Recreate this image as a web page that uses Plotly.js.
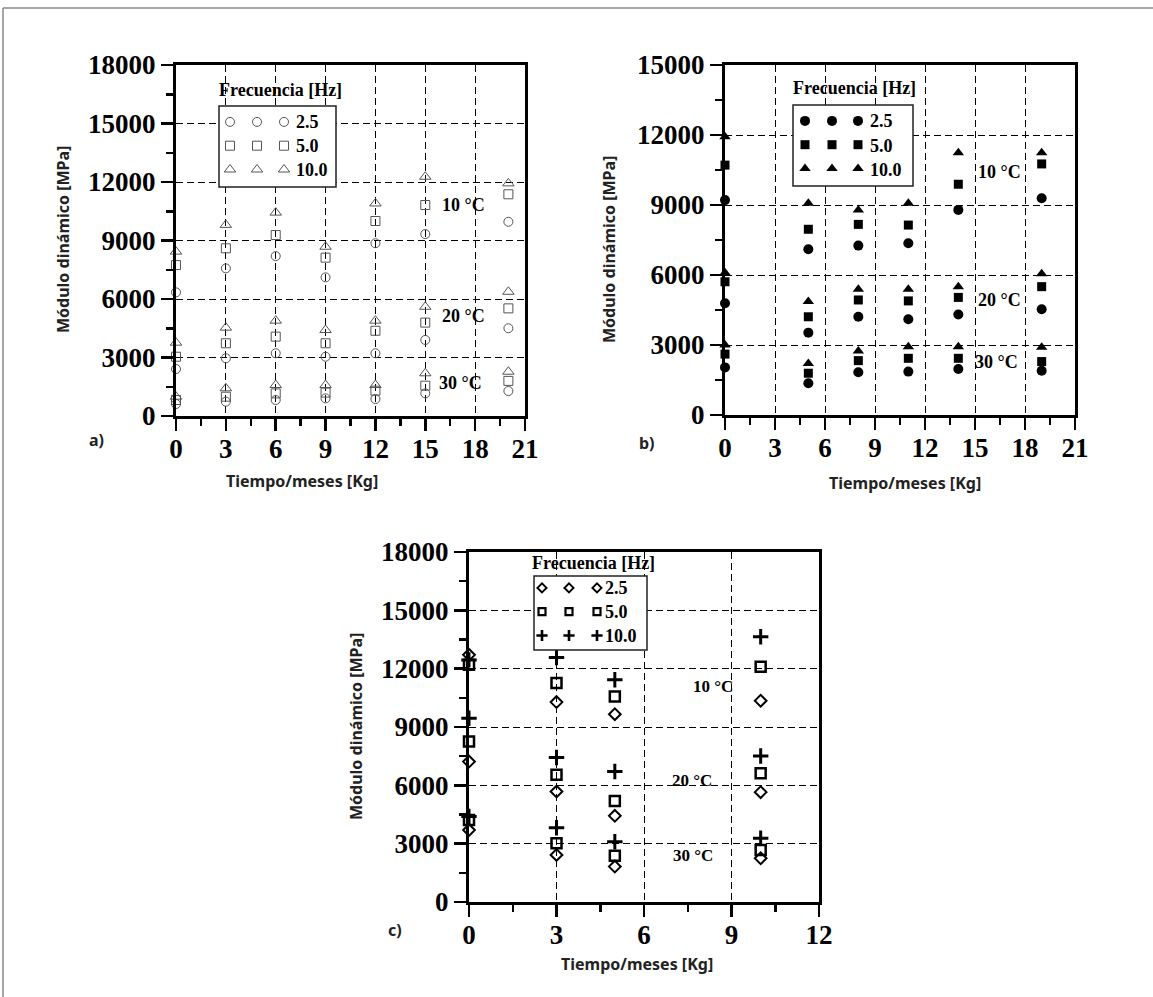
<!DOCTYPE html>
<html><head><meta charset="utf-8">
<script src="https://cdn.plot.ly/plotly-3.0.1.min.js"></script>
<style>html,body{margin:0;padding:0;background:#fff;}#chart{width:1153px;height:997px;}</style>
</head><body><div id="chart"></div>
<script>
// ---------- DATA ----------
const freqLabels = ['2.5', '5.0', '10.0'];
const tempLabels = ['10 °C', '20 °C', '30 °C'];
const legendTitle = 'Frecuencia [Hz]';
const xTitle = 'Tiempo/meses [Kg]';
const yTitle = 'Módulo dinámico [MPa]';
const panelLabels = ['a)', 'b)', 'c)'];

// Panel a
const monthsA = [0, 3, 6, 9, 12, 15, 20];
const a10_f25 = [6340, 7570, 8200, 7110, 8860, 9330, 9960];
const a10_f50 = [7740, 8600, 9280, 8120, 10000, 10820, 11370];
const a10_f100 = [8430, 9800, 10430, 8680, 10900, 12270, 11930];
const a20_f25 = [2410, 2960, 3215, 3040, 3215, 3900, 4500];
const a20_f50 = [3040, 3730, 4070, 3730, 4370, 4790, 5520];
const a20_f100 = [3760, 4530, 4890, 4410, 4890, 5600, 6370];
const a30_f25 = [615, 735, 820, 905, 870, 1160, 1280];
const a30_f50 = [820, 990, 1160, 1200, 1300, 1555, 1800];
const a30_f100 = [990, 1420, 1590, 1590, 1590, 2190, 2270];

// Panel b
const monthsB = [0, 5, 8, 11, 14, 19];
const b10_f25 = [9210, 7100, 7260, 7360, 8790, 9290];
const b10_f50 = [10710, 7960, 8170, 8140, 9890, 10760];
const b10_f100 = [11930, 9070, 8790, 9070, 11240, 11240];
const b20_f25 = [4790, 3530, 4210, 4100, 4310, 4530];
const b20_f50 = [5710, 4210, 4930, 4890, 5040, 5500];
const b20_f100 = [6100, 4860, 5390, 5390, 5500, 6050];
const b30_f25 = [2040, 1360, 1830, 1860, 1970, 1900];
const b30_f50 = [2610, 1790, 2330, 2430, 2430, 2290];
const b30_f100 = [3000, 2210, 2740, 2930, 2930, 2900];

// Panel c
const monthsC = [0, 3, 5, 10];
const c10_f25 = [12710, 10280, 9660, 10350];
const c10_f50 = [12200, 11260, 10570, 12100];
const c10_f100 = [12450, 12570, 11430, 13640];
const c20_f25 = [7220, 5680, 4430, 5650];
const c20_f50 = [8250, 6540, 5200, 6620];
const c20_f100 = [9450, 7430, 6710, 7510];
const c30_f25 = [3700, 2420, 1820, 2250];
const c30_f50 = [4220, 3020, 2380, 2680];
const c30_f100 = [4400, 3820, 3100, 3280];

// ---------- STYLE / LAYOUT ----------
const W = 1153, H = 997;
const px = v => v / W;
const py = v => 1 - v / H;
const SERIF = 'Liberation Serif, Times New Roman, serif';
const SANS = 'Noto Sans, Open Sans, sans-serif';

const markersA = [
  {symbol: 'circle-open', size: 9, color: '#555', line: {width: 1, color: '#555'}},
  {symbol: 'square-open', size: 9, color: '#555', line: {width: 1, color: '#555'}},
  {symbol: 'triangle-up-open', size: 10, color: '#555', line: {width: 1, color: '#555'}}
];
const markersB = [
  {symbol: 'circle', size: 10, color: '#000'},
  {symbol: 'square', size: 9, color: '#000'},
  {symbol: 'triangle-up', size: 10, color: '#000'}
];
const markersC = [
  {symbol: 'diamond-open', size: 9, color: '#000', line: {width: 2, color: '#000'}},
  {symbol: 'square-open', size: 10, color: '#000', line: {width: 2.5, color: '#000'}},
  {symbol: 'cross-thin-open', size: 11, color: '#000', line: {width: 3, color: '#000'}}
];
const keyMarkersC = [
  {symbol: 'diamond-open', size: 7, color: '#000', line: {width: 2, color: '#000'}},
  {symbol: 'square-open', size: 7, color: '#000', line: {width: 2.2, color: '#000'}},
  {symbol: 'cross-thin-open', size: 8, color: '#000', line: {width: 2.6, color: '#000'}}
];

const panels = [
  {months: monthsA, series: [[a10_f25, a20_f25, a30_f25], [a10_f50, a20_f50, a30_f50], [a10_f100, a20_f100, a30_f100]],
   markers: markersA, keys: markersA, xa: 'x', ya: 'y', legends: ['legend', 'legend2', 'legend3']},
  {months: monthsB, series: [[b10_f25, b20_f25, b30_f25], [b10_f50, b20_f50, b30_f50], [b10_f100, b20_f100, b30_f100]],
   markers: markersB, keys: markersB, xa: 'x2', ya: 'y2', legends: ['legend4', 'legend5', 'legend6']},
  {months: monthsC, series: [[c10_f25, c20_f25, c30_f25], [c10_f50, c20_f50, c30_f50], [c10_f100, c20_f100, c30_f100]],
   markers: markersC, keys: keyMarkersC, xa: 'x3', ya: 'y3', legends: ['legend7', 'legend8', 'legend9']}
];

const traces = [];
panels.forEach(p => {
  p.series.forEach((temps, fi) => {
    const xs = [], ys = [];
    temps.forEach(arr => { arr.forEach((v, i) => { xs.push(p.months[i]); ys.push(v); }); });
    traces.push({x: xs, y: ys, xaxis: p.xa, yaxis: p.ya, type: 'scatter', mode: 'markers',
      name: freqLabels[fi] + ' Hz', marker: p.markers[fi], cliponaxis: false, showlegend: false, hoverinfo: 'x+y+name'});
  });
  // legend keys: three columns of symbols per frequency row
  p.legends.forEach(lg => {
    p.keys.forEach((m, fi) => {
      traces.push({x: [null], y: [null], xaxis: p.xa, yaxis: p.ya, type: 'scatter', mode: 'markers',
        name: '', marker: m, legend: lg, showlegend: true, hoverinfo: 'skip'});
    });
  });
});

function axis(extra) {
  return Object.assign({
    showline: true, linewidth: 3, linecolor: '#000', mirror: true,
    ticks: 'outside', ticklen: 12, tickwidth: 2.5, tickcolor: '#000',
    showgrid: true, gridcolor: '#000', gridwidth: 1, griddash: '7px,4px',
    zeroline: false, tickformat: 'd',
    tickfont: {family: SERIF, size: 27, weight: 'bold', color: '#000'},
    fixedrange: true
  }, extra);
}
const minorX = {dtick: 1.5, ticks: 'outside', ticklen: 7, tickwidth: 2.5, tickcolor: '#000', showgrid: false};
const minorY = {dtick: 1500, ticks: 'outside', ticklen: 7, tickwidth: 2.5, tickcolor: '#000', showgrid: false};

function legendCfg(left, top) {
  return {x: px(left), y: py(top), xanchor: 'left', yanchor: 'top', orientation: 'v',
    bgcolor: 'rgba(0,0,0,0)', borderwidth: 0, font: {size: 16, family: SERIF}, itemwidth: 30, tracegroupgap: 0};
}

const ann = [];
function text(t, x, y, opts) {
  ann.push(Object.assign({text: t, x: px(x), y: py(y), xref: 'paper', yref: 'paper', showarrow: false,
    xanchor: 'center', yanchor: 'middle'}, opts));
}
const serifB = s => ({family: SERIF, size: s, weight: 'bold', color: '#000'});
const sansB = s => ({family: SANS, size: s, weight: 'bold', color: '#222'});

// axis titles and panel labels
text(yTitle, 63, 240, {textangle: -90, font: sansB(16)});
text(yTitle, 609, 250, {textangle: -90, font: sansB(16)});
text(yTitle, 356, 727, {textangle: -90, font: sansB(16)});
text(xTitle, 302, 481, {font: sansB(16)});
text(xTitle, 905, 483, {font: sansB(16)});
text(xTitle, 637, 964, {font: sansB(16)});
text(panelLabels[0], 97, 440, {font: sansB(16)});
text(panelLabels[1], 647, 443, {font: sansB(16)});
text(panelLabels[2], 395, 930, {font: sansB(16)});
// temperature labels
text(tempLabels[0], 463, 205, {font: serifB(18)});
text(tempLabels[1], 463, 316, {font: serifB(18)});
text(tempLabels[2], 460, 383, {font: serifB(18)});
text(tempLabels[0], 999, 172, {font: serifB(18)});
text(tempLabels[1], 999, 300, {font: serifB(18)});
text(tempLabels[2], 997, 362, {font: serifB(18)});
text(tempLabels[0], 713, 686, {font: serifB(17)});
text(tempLabels[1], 692, 780, {font: serifB(17)});
text(tempLabels[2], 693, 855, {font: serifB(17)});
// legend titles and labels
text(legendTitle, 280, 90, {font: serifB(18)});
text(legendTitle, 854, 88, {font: serifB(18)});
text(legendTitle, 593, 563, {font: serifB(18)});
const rowsA = [122, 146, 170], rowsB = [121, 146, 170], rowsC = [588, 612, 636];
freqLabels.forEach((f, i) => {
  text(f, 294, rowsA[i], {xanchor: 'left', font: serifB(18)});
  text(f, 868, rowsB[i], {xanchor: 'left', font: serifB(18)});
  text(f, 603, rowsC[i], {xanchor: 'left', font: serifB(18)});
});

const shapes = [
  {type: 'rect', xref: 'paper', yref: 'paper', x0: px(219), x1: px(336), y0: py(106), y1: py(187),
   fillcolor: '#fff', line: {color: '#222', width: 1.5}, layer: 'above'},
  {type: 'rect', xref: 'paper', yref: 'paper', x0: px(793), x1: px(913), y0: py(105), y1: py(186),
   fillcolor: '#fff', line: {color: '#222', width: 1.5}, layer: 'above'},
  {type: 'rect', xref: 'paper', yref: 'paper', x0: px(534), x1: px(647), y0: py(576), y1: py(650),
   fillcolor: '#fff', line: {color: '#222', width: 1.5}, layer: 'above'},
  {type: 'line', xref: 'paper', yref: 'paper', x0: px(3), x1: 1, y0: py(8), y1: py(8), line: {color: '#888', width: 1.5}},
  {type: 'line', xref: 'paper', yref: 'paper', x0: px(3), x1: px(3), y0: py(8), y1: 0, line: {color: '#888', width: 1.5}}
];

const xStand = -5;
const layout = {
  width: W, height: H, margin: {l: 0, r: 0, t: 0, b: 0},
  paper_bgcolor: '#fff', plot_bgcolor: '#fff', showlegend: true,
  xaxis: axis({domain: [px(176), px(525)], anchor: 'y', range: [0, 21], dtick: 3, tick0: 0, minor: minorX, ticklabelstandoff: xStand}),
  yaxis: axis({domain: [py(416), py(65)], anchor: 'x', range: [0, 18000], dtick: 3000, tick0: 0, minor: minorY}),
  xaxis2: axis({domain: [px(725), px(1075)], anchor: 'y2', range: [0, 21], dtick: 3, tick0: 0, minor: minorX, ticklabelstandoff: xStand}),
  yaxis2: axis({domain: [py(415), py(65)], anchor: 'x2', range: [0, 15000], dtick: 3000, tick0: 0, minor: minorY}),
  xaxis3: axis({domain: [px(469), px(819)], anchor: 'y3', range: [0, 12], dtick: 3, tick0: 0, minor: minorX, ticklabelstandoff: xStand}),
  yaxis3: axis({domain: [py(902), py(552)], anchor: 'x3', range: [0, 18000], dtick: 3000, tick0: 0, minor: minorY}),
  legend: legendCfg(210, 105), legend2: legendCfg(237, 105), legend3: legendCfg(264, 105),
  legend4: legendCfg(785, 104), legend5: legendCfg(812, 104), legend6: legendCfg(838, 104),
  legend7: legendCfg(522, 571), legend8: legendCfg(549, 571), legend9: legendCfg(577, 571),
  annotations: ann, shapes: shapes
};

Plotly.newPlot('chart', traces, layout, {displayModeBar: false, staticPlot: true});
</script></body></html>
